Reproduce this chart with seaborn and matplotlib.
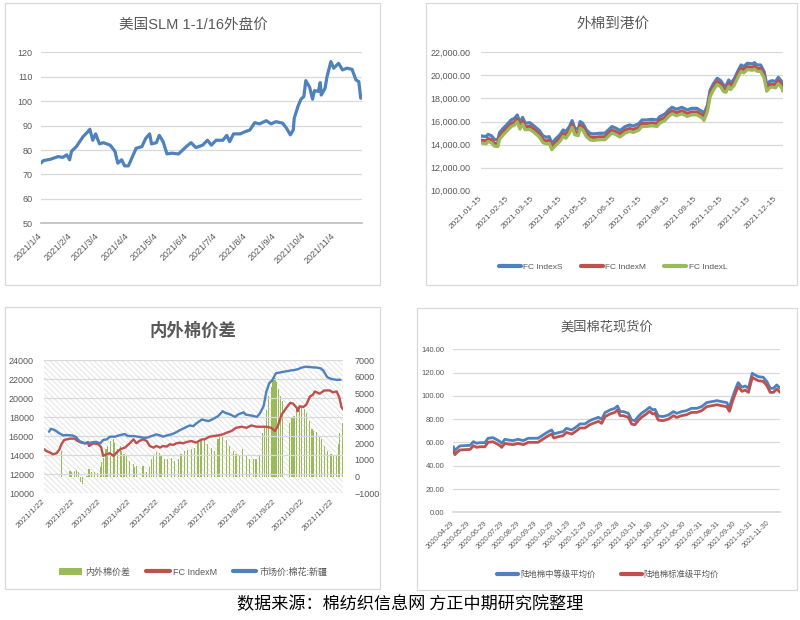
import matplotlib
matplotlib.use("Agg")
import matplotlib.pyplot as plt
import seaborn as sns
import pandas as pd
from matplotlib.patches import Rectangle, Patch
from matplotlib.lines import Line2D

# ---------------- data ----------------
# Panel 1: 美国SLM 1-1/16外盘价
p1_dates = ["2021-01-04","2021-01-07","2021-01-14","2021-01-22","2021-01-27","2021-01-31","2021-02-03","2021-02-05",
            "2021-02-10","2021-02-17","2021-02-22","2021-02-24","2021-02-27","2021-03-02","2021-03-06","2021-03-10",
            "2021-03-17","2021-03-22","2021-03-25","2021-03-29","2021-04-01","2021-04-05","2021-04-10","2021-04-13",
            "2021-04-19","2021-04-23","2021-04-27","2021-04-29","2021-05-04","2021-05-07","2021-05-11","2021-05-15",
            "2021-05-20","2021-05-27","2021-05-30","2021-06-04","2021-06-09","2021-06-14","2021-06-21","2021-06-26",
            "2021-06-30","2021-07-05","2021-07-12","2021-07-16","2021-07-19","2021-07-23","2021-07-30","2021-08-04",
            "2021-08-09","2021-08-14","2021-08-19","2021-08-26","2021-08-31","2021-09-05","2021-09-12","2021-09-16",
            "2021-09-20","2021-09-23","2021-09-24","2021-09-28","2021-10-01","2021-10-04","2021-10-06","2021-10-10",
            "2021-10-13","2021-10-15","2021-10-19","2021-10-21","2021-10-22","2021-10-26","2021-10-28","2021-11-01",
            "2021-11-04","2021-11-09","2021-11-13","2021-11-18","2021-11-23","2021-11-27","2021-11-30","2021-12-02",
            "2021-12-03"]
p1_price = [74.6,75.7,76.2,77.3,77.0,78.0,76.0,79.5,81.4,85.5,87.5,88.5,84.0,86.6,82.5,83.0,82.0,79.5,74.6,76.0,
            73.5,73.5,78.0,80.7,81.4,84.8,86.6,82.5,83.0,86.0,83.4,78.4,78.7,78.4,79.5,81.4,83.0,81.0,82.0,84.0,
            82.0,84.0,84.0,86.0,83.4,86.6,86.6,87.5,88.2,91.2,90.7,92.0,90.7,91.6,91.0,88.9,86.2,88.2,93.0,98.0,
            100.8,101.9,108.4,105.7,100.8,104.3,104.0,107.6,102.5,105.3,110.0,116.2,113.5,115.5,112.8,113.5,113.0,108.7,108.0,101.2,
            101.9]
p1_ticks = ["2021-01-04","2021-02-04","2021-03-04","2021-04-04","2021-05-04","2021-06-04","2021-07-04","2021-08-04",
            "2021-09-04","2021-10-04","2021-11-04"]
p1_ticklabels = ["2021/1/4","2021/2/4","2021/3/4","2021/4/4","2021/5/4","2021/6/4","2021/7/4","2021/8/4",
                 "2021/9/4","2021/10/4","2021/11/4"]

# Panel 2: 外棉到港价
p2_dates = ["2021-01-15","2021-01-21","2021-01-23","2021-01-27","2021-01-30","2021-02-03","2021-02-05","2021-02-09",
            "2021-02-13","2021-02-18","2021-02-22","2021-02-25","2021-02-28","2021-03-03","2021-03-06","2021-03-11",
            "2021-03-16","2021-03-22","2021-03-26","2021-03-30","2021-04-02","2021-04-05","2021-04-10","2021-04-14",
            "2021-04-18","2021-04-21","2021-04-25","2021-04-28","2021-05-01","2021-05-05","2021-05-07","2021-05-10",
            "2021-05-14","2021-05-18","2021-05-22","2021-05-29","2021-06-04","2021-06-08","2021-06-12","2021-06-17",
            "2021-06-21","2021-06-27","2021-07-02","2021-07-06","2021-07-12","2021-07-16","2021-07-21","2021-07-27",
            "2021-08-02","2021-08-05","2021-08-11","2021-08-15","2021-08-19","2021-08-24","2021-08-30","2021-09-05",
            "2021-09-10","2021-09-16","2021-09-22","2021-09-24","2021-09-28","2021-10-01","2021-10-05","2021-10-09",
            "2021-10-13","2021-10-16","2021-10-19","2021-10-22","2021-10-24","2021-10-28","2021-11-01","2021-11-05",
            "2021-11-08","2021-11-12","2021-11-18","2021-11-20","2021-11-23","2021-11-27","2021-12-01","2021-12-04",
            "2021-12-07","2021-12-10","2021-12-14","2021-12-17","2021-12-21","2021-12-22"]
p2_index_s = [14750,14690,14890,14750,14460,14400,15035,15400,15700,16130,16280,16570,15900,16360,15840,15900,
              15610,15210,14750,14630,14690,14110,14540,14830,15270,15120,15560,16075,15400,15330,15990,15840,
              15270,14980,14920,14980,14980,15270,15560,15400,15210,15560,15700,15610,15790,16130,16130,16190,
              16130,16420,16650,17000,17230,17060,17230,17000,17140,17140,16860,16650,17430,18730,19310,19750,
              19540,19170,19080,19600,19310,19660,20320,20900,20760,21050,20990,21100,20900,20900,20320,19170,
              19460,19540,19460,19830,19460,19170]
p2_index_m = [14380,14330,14520,14400,14120,14070,14700,15080,15390,15800,15950,16230,15600,16020,15530,15580,
              15300,14900,14430,14300,14370,13800,14220,14510,14950,14800,15240,15750,15100,15020,15680,15520,
              14960,14670,14610,14670,14670,14960,15250,15090,14900,15250,15390,15300,15480,15820,15820,15880,
              15820,16110,16340,16690,16920,16750,16920,16690,16830,16830,16550,16340,17130,18430,19010,19450,
              19240,18870,18780,19300,19010,19360,20020,20600,20460,20750,20690,20800,20600,20600,20020,18870,
              19160,19240,19160,19530,19160,18880]
p2_index_l = [14130,14080,14270,14150,13870,13820,14450,14830,15140,15550,15700,15980,15340,15770,15280,15320,
              15050,14650,14170,14050,14120,13550,13970,14260,14700,14550,14990,15500,14850,14770,15430,15270,
              14700,14420,14360,14420,14420,14700,15000,14840,14650,15000,15140,15050,15230,15570,15570,15630,
              15570,15860,16090,16440,16670,16500,16670,16440,16580,16580,16300,16090,16880,18180,18760,19200,
              18990,18600,18530,19050,18760,19110,19770,20350,20210,20500,20440,20550,20350,20350,19770,18620,
              18910,18990,18910,19280,18910,18640]
p2_ticks = ["2021-01-15","2021-02-15","2021-03-15","2021-04-15","2021-05-15","2021-06-15","2021-07-15",
            "2021-08-15","2021-09-15","2021-10-15","2021-11-15","2021-12-15"]
p2_yticks = [10000,12000,14000,16000,18000,20000,22000]
p2_yticklabels = ["10,000.00","12,000.00","14,000.00","16,000.00","18,000.00","20,000.00","22,000.00"]

# Panel 3: 内外棉价差
p3_xj_dates = ["2021-01-27","2021-01-29","2021-02-02","2021-02-07","2021-02-11","2021-02-14","2021-02-20","2021-02-24",
               "2021-02-28","2021-03-06","2021-03-09","2021-03-15","2021-03-18","2021-03-22","2021-03-25","2021-03-29",
               "2021-04-01","2021-04-06","2021-04-12","2021-04-17","2021-04-20","2021-04-26","2021-05-01","2021-05-06",
               "2021-05-10","2021-05-15","2021-05-20","2021-05-24","2021-05-27","2021-05-31","2021-06-05","2021-06-09",
               "2021-06-14","2021-06-19","2021-06-24","2021-06-28","2021-07-01","2021-07-07","2021-07-10","2021-07-14",
               "2021-07-19","2021-07-24","2021-07-29","2021-08-01","2021-08-06","2021-08-11","2021-08-14","2021-08-20",
               "2021-08-22","2021-08-28","2021-09-03","2021-09-06","2021-09-10","2021-09-13","2021-09-16","2021-09-19",
               "2021-09-23","2021-09-27","2021-10-02","2021-10-08","2021-10-13","2021-10-16","2021-10-20","2021-10-25",
               "2021-10-30","2021-11-05","2021-11-09","2021-11-12","2021-11-16","2021-11-21","2021-11-26","2021-11-30"]
p3_xinjiang = [16470,16780,16640,16290,16080,16120,16080,15945,15490,15250,15250,15390,15390,15250,15600,15670,
               15945,15945,16120,16220,16010,16010,15945,15840,15840,16010,16190,16080,15945,16080,16190,16360,
               16640,16880,17125,17055,17330,17750,17680,17580,17820,18100,18620,18440,18270,18030,18270,18510,
               18270,18170,18030,18380,19140,20700,21570,21850,22610,22680,22780,22890,22960,23030,23200,23300,
               23240,23200,23130,22890,22200,21990,21920,21920]
p3_fc_dates = ["2021-01-22","2021-01-24","2021-01-28","2021-01-31","2021-02-04","2021-02-07","2021-02-09","2021-02-12",
               "2021-02-18","2021-02-23","2021-02-26","2021-03-02","2021-03-06","2021-03-09","2021-03-10","2021-03-15",
               "2021-03-20","2021-03-23","2021-03-25","2021-03-29","2021-04-01","2021-04-05","2021-04-08","2021-04-12",
               "2021-04-17","2021-04-22","2021-04-26","2021-04-29","2021-05-02","2021-05-06","2021-05-10","2021-05-13",
               "2021-05-17","2021-05-20","2021-05-24","2021-05-27","2021-05-31","2021-06-03","2021-06-07","2021-06-10",
               "2021-06-14","2021-06-17","2021-06-21","2021-06-26","2021-07-01","2021-07-07","2021-07-10","2021-07-15",
               "2021-07-19","2021-07-24","2021-07-29","2021-08-02","2021-08-07","2021-08-12","2021-08-18","2021-08-23",
               "2021-08-28","2021-09-03","2021-09-08","2021-09-13","2021-09-18","2021-09-22","2021-09-25","2021-09-29",
               "2021-10-04","2021-10-08","2021-10-11","2021-10-15","2021-10-16","2021-10-18","2021-10-22","2021-10-25",
               "2021-10-29","2021-11-01","2021-11-03","2021-11-08","2021-11-13","2021-11-19","2021-11-22","2021-11-26",
               "2021-11-29","2021-12-01","2021-12-03"]
p3_fc_m = [14625,14450,14280,14100,14210,14625,15150,15600,15740,15740,15490,15320,15250,15390,14970,15250,
           15150,14800,13930,14100,14210,13930,14280,14625,14800,15250,15670,15250,15490,15670,15490,14970,
           14800,14970,14800,14970,14900,15150,15080,15250,15320,15250,15390,15490,15320,15670,15670,15945,
           16010,16080,16190,16360,16535,16880,16990,16880,17125,16990,16990,16990,16880,16535,17055,18270,
           18970,19490,19420,18970,18620,19140,19070,19310,20180,20350,20700,20460,20800,20800,20600,20700,
           20000,19070,18790]
p3_bar_dates = ["2021-02-09","2021-02-18","2021-02-20","2021-02-23","2021-02-25","2021-02-27","2021-03-01","2021-03-03",
                "2021-03-06","2021-03-08","2021-03-10","2021-03-13","2021-03-16","2021-03-19","2021-03-22","2021-03-23",
                "2021-03-25","2021-03-28","2021-03-30","2021-04-02","2021-04-05","2021-04-06","2021-04-09","2021-04-12",
                "2021-04-13","2021-04-16","2021-04-19","2021-04-22","2021-04-26","2021-04-27","2021-04-29","2021-05-06",
                "2021-05-10","2021-05-13","2021-05-15","2021-05-17","2021-05-20","2021-05-23","2021-05-25","2021-05-29",
                "2021-06-01","2021-06-05","2021-06-08","2021-06-12","2021-06-15","2021-06-19","2021-06-22","2021-06-26",
                "2021-06-29","2021-07-03","2021-07-06","2021-07-10","2021-07-13","2021-07-17","2021-07-20","2021-07-24",
                "2021-07-26","2021-07-29","2021-08-02","2021-08-05","2021-08-09","2021-08-12","2021-08-16","2021-08-19",
                "2021-08-23","2021-08-26","2021-08-30","2021-09-02","2021-09-06","2021-09-09","2021-09-11","2021-09-13",
                "2021-09-15","2021-09-18","2021-09-20","2021-09-22","2021-09-24","2021-09-26","2021-09-28","2021-09-30",
                "2021-10-07","2021-10-10","2021-10-12","2021-10-15","2021-10-18","2021-10-20","2021-10-23","2021-10-25",
                "2021-10-28","2021-10-31","2021-11-02","2021-11-05","2021-11-08","2021-11-10","2021-11-13","2021-11-16",
                "2021-11-20","2021-11-23","2021-11-26","2021-11-28","2021-11-29","2021-12-02"]
p3_spread = [1540,350,250,350,410,250,-300,-450,-50,50,450,250,290,210,550,850,
             1140,1640,1840,2140,2240,2040,1640,1840,1540,1340,1240,950,750,550,650,610,
             250,550,1040,1240,1480,1400,1240,1080,1080,1140,950,1040,1340,1540,1600,1680,
             1740,2040,2140,2240,1940,1740,1540,2240,2430,2390,2190,1840,1540,1340,1240,1640,
             1240,1080,1040,1080,1240,2630,3030,4020,4810,5370,5810,5900,5650,5250,4810,4520,
             3230,3530,3620,4120,4020,4260,4060,3820,3330,2870,2730,2670,2430,2240,1840,1540,
             1340,1240,1240,1940,2630,3230]
p3_ticks = ["2021-01-22","2021-02-22","2021-03-22","2021-04-22","2021-05-22","2021-06-22","2021-07-22",
            "2021-08-22","2021-09-22","2021-10-22","2021-11-22"]
p3_ticklabels = ["2021/1/22","2021/2/22","2021/3/22","2021/4/22","2021/5/22","2021/6/22","2021/7/22",
                 "2021/8/22","2021/9/22","2021/10/22","2021/11/22"]

# Panel 4: 美国棉花现货价
p4_dates = ["2020-04-29","2020-05-02","2020-05-06","2020-05-11","2020-05-20","2020-05-30","2020-06-05","2020-06-11",
            "2020-06-17","2020-06-26","2020-07-02","2020-07-11","2020-07-19","2020-07-24","2020-07-27","2020-08-02",
            "2020-08-08","2020-08-17","2020-08-26","2020-09-05","2020-09-14","2020-09-23","2020-10-02","2020-10-11",
            "2020-10-21","2020-10-27","2020-10-31","2020-11-08","2020-11-17","2020-11-23","2020-12-03","2020-12-12",
            "2020-12-18","2020-12-27","2021-01-05","2021-01-11","2021-01-21","2021-01-27","2021-02-02","2021-02-11",
            "2021-02-20","2021-02-25","2021-03-02","2021-03-08","2021-03-17","2021-03-23","2021-03-29","2021-04-05",
            "2021-04-10","2021-04-19","2021-04-25","2021-05-01","2021-05-05","2021-05-11","2021-05-20","2021-05-30",
            "2021-06-08","2021-06-14","2021-06-23","2021-07-02","2021-07-11","2021-07-21","2021-07-30","2021-08-08",
            "2021-08-17","2021-08-27","2021-09-05","2021-09-14","2021-09-19","2021-09-23","2021-09-29","2021-10-05",
            "2021-10-12","2021-10-18","2021-10-24","2021-10-31","2021-11-05","2021-11-11","2021-11-20","2021-11-27",
            "2021-12-03","2021-12-09","2021-12-15","2021-12-21"]
p4_middling = [56.4,53.0,55.0,57.0,57.3,57.5,60.7,59.3,59.8,59.8,63.6,64.1,62.1,60.7,59.3,62.7,62.1,61.6,
               62.7,61.6,63.6,63.6,63.6,66.4,69.3,70.7,67.3,68.4,69.3,72.1,70.7,73.6,75.9,75.9,78.7,79.9,
               81.6,79.9,85.6,87.9,89.3,91.3,86.5,86.5,85.0,79.3,78.7,82.7,85.0,87.9,90.2,87.9,88.5,82.7,
               82.2,83.6,86.5,85.0,86.5,87.3,89.3,89.3,90.8,94.2,95.0,95.9,95.0,94.2,90.2,96.5,104.5,111.4,
               107.4,108.5,106.5,119.4,118.0,116.5,116.0,112.2,106.5,106.5,109.4,106.5]
p4_standard = [52.9,49.5,51.5,53.5,53.8,54.0,57.2,55.8,56.3,56.3,60.1,60.6,58.6,57.2,55.8,59.2,58.6,58.1,
               59.2,58.1,60.1,60.1,60.1,62.9,65.8,67.2,63.8,64.9,65.8,68.6,67.2,70.1,72.4,72.4,75.2,76.4,
               78.1,76.4,82.1,84.4,85.8,87.8,83.0,83.0,81.5,75.8,75.2,79.2,81.5,84.4,86.7,84.4,85.0,79.2,
               78.7,80.1,83.0,81.5,83.0,83.8,85.8,85.8,87.3,90.7,91.5,92.4,91.5,90.7,86.7,93.0,101.0,107.9,
               103.9,105.0,103.0,115.9,114.5,113.0,112.5,108.7,103.0,103.0,105.9,103.0]
p4_ticks = ["2020-04-29","2020-05-29","2020-06-29","2020-07-29","2020-08-29","2020-09-29","2020-10-29",
            "2020-11-29","2020-12-29","2021-01-29","2021-02-28","2021-03-31","2021-04-30","2021-05-31",
            "2021-06-30","2021-07-31","2021-08-31","2021-09-30","2021-10-31","2021-11-30"]

# ---------------- style ----------------
BLUE, RED, GREEN = "#4F81BD", "#C0504D", "#9BBB59"
TXT, GRID = "#595959", "#D9D9D9"
sns.set_theme(style="white")
plt.rcParams["font.family"] = ["Liberation Sans", "Noto Sans CJK SC"]
plt.rcParams["hatch.linewidth"] = 0.6
CJK = ["Noto Sans CJK SC", "DejaVu Sans"]

W, H = 800, 620
fig = plt.figure(figsize=(8, 6.2), dpi=100)
fig.patch.set_facecolor("white")


def px_axes(l, t, r, b):
    return fig.add_axes([l / W, 1 - b / H, (r - l) / W, (b - t) / H])


def box(l, t, r, b):
    fig.patches.append(Rectangle((l / W, 1 - b / H), (r - l) / W, (b - t) / H,
                                 transform=fig.transFigure, fill=False,
                                 edgecolor=GRID, lw=0.9))


def ftext(x, y, s, **kw):
    fig.text(x / W, 1 - y / H, s, ha="center", va="center", **kw)


def base_style(ax, ysize, xsize, ypad, xpad):
    for s in ax.spines.values():
        s.set_visible(False)
    ax.set_facecolor("none")
    ax.grid(axis="y", color=GRID, lw=0.9)
    ax.grid(axis="x", visible=False)
    ax.set_axisbelow(True)
    ax.tick_params(axis="y", colors=TXT, labelsize=ysize, length=0, pad=ypad)
    ax.tick_params(axis="x", colors=TXT, labelsize=xsize, length=0, pad=xpad)
    ax.set_xlabel("")
    ax.set_ylabel("")


def rot_labels(ax, ticks, labels):
    ax.set_xticks(pd.to_datetime(ticks))
    ax.set_xticklabels(labels, rotation=45, ha="right", va="center",
                       rotation_mode="anchor")


for b in [(5, 3, 380, 285), (426, 3, 797, 285), (5, 307, 380, 589), (417, 308, 797, 590)]:
    box(*b)

# ---------------- Panel 1 ----------------
ax1 = px_axes(40.7, 52.3, 361.7, 223.3)
d1 = pd.DataFrame({"date": pd.to_datetime(p1_dates), "price": p1_price})
sns.lineplot(data=d1, x="date", y="price", ax=ax1, color=BLUE, lw=2.3,
             estimator=None, sort=False)
ax1.set_ylim(50, 120)
ax1.set_yticks(range(50, 121, 10))
ax1.set_xlim(pd.Timestamp("2021-01-04"), pd.Timestamp("2021-12-03"))
base_style(ax1, 6.5, 6.5, 6, 5)
ax1.spines["bottom"].set_visible(True)
ax1.spines["bottom"].set_color("#BFBFBF")
ax1.tick_params(axis="x", length=3, color="#BFBFBF")
rot_labels(ax1, p1_ticks, p1_ticklabels)
ftext(193, 25, "美国SLM 1-1/16外盘价", fontsize=10.5, color=TXT)

# ---------------- Panel 2 ----------------
ax2 = px_axes(481, 52.3, 782.7, 190.7)
d2 = pd.DataFrame({"date": pd.to_datetime(p2_dates), "S": p2_index_s,
                   "M": p2_index_m, "L": p2_index_l})
for col, c in [("S", BLUE), ("M", RED), ("L", GREEN)]:
    sns.lineplot(data=d2, x="date", y=col, ax=ax2, color=c, lw=2.3,
                 estimator=None, sort=False)
ax2.set_ylim(10000, 22000)
ax2.set_yticks(p2_yticks)
ax2.set_yticklabels(p2_yticklabels)
ax2.set_xlim(pd.Timestamp("2021-01-15"), pd.Timestamp("2021-12-22"))
base_style(ax2, 6.5, 6, 7.5, 5)
rot_labels(ax2, p2_ticks, p2_ticks)
ftext(613, 24, "外棉到港价", fontsize=10.5, color=TXT, family=CJK)
fig.legend(handles=[Line2D([], [], color=BLUE, lw=3), Line2D([], [], color=RED, lw=3),
                    Line2D([], [], color=GREEN, lw=3)],
           labels=["FC IndexS", "FC IndexM", "FC IndexL"],
           loc="center", bbox_to_anchor=(613 / W, 1 - 267 / H), ncol=3, frameon=False,
           fontsize=6, labelcolor=TXT, handlelength=2.6, handletextpad=0.3,
           columnspacing=2.2)

# ---------------- Panel 3 ----------------
ax3b = px_axes(44.3, 360, 343.3, 493.3)
ax3 = ax3b.twinx()
ax3.set_zorder(ax3b.get_zorder() + 1)
ax3b.add_patch(Rectangle((0, 0), 1, 1, transform=ax3b.transAxes, facecolor="white",
                         edgecolor="#E0E0E0", lw=0, hatch="\\\\\\\\\\\\", zorder=0))
ax3b.bar(pd.to_datetime(p3_bar_dates), p3_spread, width=1.25, color=GREEN,
         edgecolor="none", linewidth=0, zorder=2)
ax3b.set_ylim(-1000, 7000)
ax3b.set_yticks(range(-1000, 7001, 1000))
ax3b.yaxis.tick_right()
d3a = pd.DataFrame({"date": pd.to_datetime(p3_fc_dates), "v": p3_fc_m})
d3b = pd.DataFrame({"date": pd.to_datetime(p3_xj_dates), "v": p3_xinjiang})
sns.lineplot(data=d3a, x="date", y="v", ax=ax3, color=RED, lw=1.7, estimator=None, sort=False)
sns.lineplot(data=d3b, x="date", y="v", ax=ax3, color=BLUE, lw=1.7, estimator=None, sort=False)
ax3.set_ylim(10000, 24000)
ax3.set_yticks(range(10000, 24001, 2000))
ax3.yaxis.tick_left()
for a in (ax3, ax3b):
    a.set_xlim(pd.Timestamp("2021-01-22"), pd.Timestamp("2021-12-03"))
base_style(ax3, 6.5, 6, 7.5, 5)
base_style(ax3b, 6.5, 6, 8, 5)
ax3b.grid(False)
ax3.grid(axis="y", color=GRID, lw=0.9)
ax3b.yaxis.set_label_position("right")
rot_labels(ax3, p3_ticks, p3_ticklabels)
rot_labels(ax3b, p3_ticks, p3_ticklabels)
ax3.tick_params(axis="x", labelbottom=False)
ftext(193, 331, "内外棉价差", fontsize=12.5, color=TXT, family=CJK, fontweight="bold")
fig.legend(handles=[Patch(facecolor=GREEN, edgecolor="none"), Line2D([], [], color=RED, lw=3),
                    Line2D([], [], color=BLUE, lw=3)],
           labels=["内外棉价差", "FC IndexM", "市场价:棉花:新疆"],
           loc="center", bbox_to_anchor=(193 / W, 1 - 572 / H), ncol=3, frameon=False,
           fontsize=6.5, labelcolor=TXT, handlelength=2.6, handleheight=0.8,
           handletextpad=0.3, columnspacing=1.8)

# ---------------- Panel 4 ----------------
ax4 = px_axes(453.3, 349.3, 780, 512.3)
d4 = pd.DataFrame({"date": pd.to_datetime(p4_dates), "mid": p4_middling, "std": p4_standard})
sns.lineplot(data=d4, x="date", y="mid", ax=ax4, color=BLUE, lw=2.0, estimator=None, sort=False)
sns.lineplot(data=d4, x="date", y="std", ax=ax4, color=RED, lw=2.0, estimator=None, sort=False)
ax4.set_ylim(0, 140)
ax4.set_yticks(range(0, 141, 20))
ax4.set_yticklabels([f"{v:.2f}" for v in range(0, 141, 20)])
ax4.set_xlim(pd.Timestamp("2020-04-29"), pd.Timestamp("2021-12-21"))
base_style(ax4, 5.5, 5, 6.5, 4)
ax4.spines["bottom"].set_visible(True)
ax4.spines["bottom"].set_color(GRID)
ax4.tick_params(axis="x", length=3, color=GRID)
rot_labels(ax4, p4_ticks, p4_ticks)
ftext(607, 327, "美国棉花现货价", fontsize=9.5, color=TXT, family=CJK)
fig.legend(handles=[Line2D([], [], color=BLUE, lw=3), Line2D([], [], color=RED, lw=3)],
           labels=["陆地棉中等级平均价", "陆地棉标准级平均价"],
           loc="center", bbox_to_anchor=(608 / W, 1 - 575 / H), ncol=2, frameon=False,
           fontsize=6, labelcolor=TXT, handlelength=2.6, handletextpad=0.2,
           columnspacing=3.0)

# ---------------- footer ----------------
ftext(410, 604, "数据来源：棉纺织信息网 方正中期研究院整理", fontsize=12.3, color="black",
      family=CJK)

fig.savefig("out.png", dpi=100, facecolor="white")
